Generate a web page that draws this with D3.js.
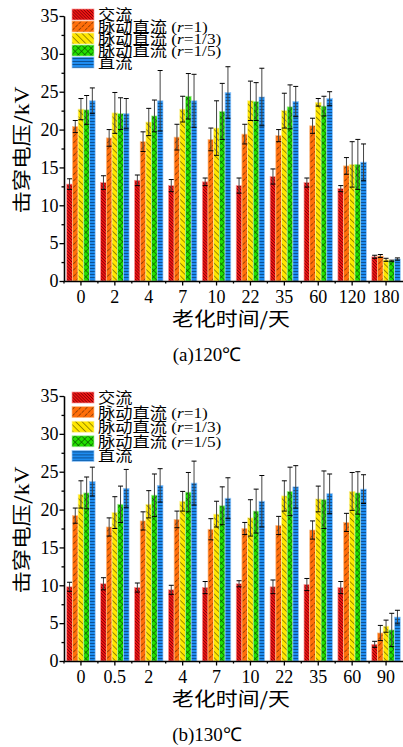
<!DOCTYPE html>
<html>
<head>
<meta charset="utf-8">
<script src="https://cdn.jsdelivr.net/npm/d3@7"></script>
<style>
  body { margin: 0; background: #fff; }
  svg { display: block; }
  .tick text { font-family: "Liberation Serif", "Times New Roman", serif; font-size: 18px; fill: #000; }
  .axis path, .axis line { stroke: #000; stroke-width: 1.3; }
</style>
</head>
<body>
<div id="chart"></div>
<script>
// series names and ratios (r value shown in italics)
const seriesNames = ['交流', '脉动直流', '脉动直流', '脉动直流', '直流'];
const seriesRatio = [null, '1', '1/3', '1/5', null];
const seriesKeys = ['ac', 'p1', 'p3', 'p5', 'dc'];

// (a) 120 C
const days120 = ['0', '2', '4', '7', '10', '22', '35', '60', '120', '180'];
const ac120 = [12.8, 13.0, 13.3, 12.6, 13.1, 12.6, 13.8, 13.0, 12.2, 3.2];
const ac120Err = [0.7, 0.9, 0.7, 0.8, 0.5, 1.0, 1.0, 0.6, 0.4, 0.2];
const p1_120 = [20.4, 18.9, 18.4, 19.0, 18.7, 19.4, 19.2, 20.5, 15.2, 3.3];
const p1_120Err = [0.8, 1.1, 1.3, 1.7, 1.5, 1.3, 0.8, 1.0, 1.1, 0.2];
const p3_120 = [22.7, 22.2, 21.0, 22.7, 20.2, 23.8, 22.5, 23.6, 15.4, 2.8];
const p3_120Err = [1.4, 2.7, 1.8, 1.7, 3.6, 2.6, 2.3, 0.5, 3.0, 0.2];
const p5_120 = [22.6, 22.1, 21.8, 24.4, 22.4, 23.7, 23.0, 23.1, 15.4, 2.65];
const p5_120Err = [1.9, 2.1, 2.1, 3.0, 3.7, 2.5, 2.9, 1.3, 3.3, 0.1];
const dc120 = [23.8, 22.1, 23.8, 23.8, 24.9, 24.3, 23.7, 24.1, 15.7, 2.9];
const dc120Err = [1.7, 2.0, 4.0, 3.5, 3.4, 3.8, 2.0, 0.9, 2.4, 0.15];

// (b) 130 C
const days130 = ['0', '0.5', '2', '4', '7', '10', '22', '35', '60', '90'];
const ac130 = [9.8, 10.2, 9.7, 9.4, 9.7, 10.2, 9.8, 10.1, 9.7, 2.2];
const ac130Err = [0.6, 0.8, 0.6, 0.6, 0.8, 0.4, 0.9, 0.8, 0.8, 0.4];
const p1_130 = [19.2, 17.7, 18.5, 18.7, 17.4, 17.5, 17.9, 17.3, 18.3, 3.7];
const p1_130Err = [1.0, 1.2, 1.2, 1.1, 1.4, 0.8, 1.2, 1.2, 1.2, 1.0];
const p3_130 = [22.0, 19.6, 20.7, 21.1, 19.4, 18.9, 21.8, 21.4, 22.4, 4.6];
const p3_130Err = [1.8, 2.1, 1.8, 1.3, 1.7, 2.4, 2.0, 1.7, 2.5, 0.8];
const p5_130 = [22.2, 20.7, 21.9, 22.3, 20.5, 19.8, 22.4, 21.3, 22.2, 4.1];
const p5_130Err = [2.1, 2.4, 2.8, 2.6, 2.5, 2.9, 3.2, 3.8, 2.8, 2.2];
const dc130 = [23.7, 22.8, 23.2, 23.5, 21.5, 21.1, 23.0, 22.1, 22.7, 5.8];
const dc130Err = [1.9, 2.5, 2.2, 2.9, 2.7, 3.4, 2.8, 2.6, 1.9, 0.9];

const yTicks = [0, 5, 10, 15, 20, 25, 30, 35];

const W = 403, H = 747;
const svg = d3.select('#chart').append('svg')
    .attr('width', W)
    .attr('height', H);

// hatch patterns
const defs = svg.append('defs');
const pats = [
    {id: 'ac', fill: '#f01414', line: '#6a0000', gap: 2.2, rot: -45, cross: false, dash: null},
    {id: 'p1', fill: '#ff6e0a', line: '#5a2500', gap: 4.5, rot: 45, cross: false, dash: '2,1'},
    {id: 'p3', fill: '#ffe600', line: '#5a5000', gap: 4.5, rot: -45, cross: false, dash: null},
    {id: 'p5', fill: '#22e000', line: '#0a4a00', gap: 4.5, rot: 45, cross: true, dash: null},
    {id: 'dc', fill: '#1e8cf0', line: '#063a6e', gap: 3, rot: 0, cross: false, dash: '3,1', horiz: true}
];
const strokeCol = {ac: '#ff9a9a', p1: '#ffc08a', p3: '#fff59a', p5: '#aaf59a', dc: '#9ccaf8'};

pats.forEach(p => {
    const pat = defs.append('pattern')
        .attr('id', 'pat-' + p.id)
        .attr('patternUnits', 'userSpaceOnUse')
        .attr('width', p.gap)
        .attr('height', p.gap)
        .attr('patternTransform', 'rotate(' + p.rot + ')');
    pat.append('rect').attr('width', p.gap).attr('height', p.gap).attr('fill', p.fill);
    if (p.horiz) {
        pat.append('line').attr('x1', 0).attr('x2', p.gap).attr('y1', p.gap / 2).attr('y2', p.gap / 2)
            .attr('stroke', p.line).attr('stroke-width', 0.7).attr('stroke-dasharray', p.dash);
    } else {
        pat.append('line').attr('x1', p.gap / 2).attr('x2', p.gap / 2).attr('y1', 0).attr('y2', p.gap)
            .attr('stroke', p.line).attr('stroke-width', 0.6).attr('stroke-dasharray', p.dash);
        if (p.cross) {
            pat.append('line').attr('x1', 0).attr('x2', p.gap).attr('y1', p.gap / 2).attr('y2', p.gap / 2)
                .attr('stroke', p.line).attr('stroke-width', 0.6);
        }
    }
});

function drawChart(cfg) {
    const g = svg.append('g');

    const x0 = d3.scaleBand()
        .domain(cfg.days)
        .range([64, 403])
        .paddingInner(0.16)
        .paddingOuter(0.08);

    const x1 = d3.scaleBand()
        .domain(seriesKeys)
        .range([0, x0.bandwidth()]);

    const y = d3.scaleLinear()
        .domain([0, 35])
        .range([cfg.bottom, cfg.bottom - 265]);

    const rows = cfg.days.map((d, i) => ({
        day: d,
        vals: seriesKeys.map((k, j) => ({key: k, v: cfg.vals[j][i], e: cfg.errs[j][i]}))
    }));

    const groups = g.selectAll('.grp')
        .data(rows)
        .enter()
        .append('g')
        .attr('class', 'grp')
        .attr('transform', d => 'translate(' + x0(d.day) + ',0)');

    groups.selectAll('rect')
        .data(d => d.vals)
        .enter()
        .append('rect')
        .attr('x', d => x1(d.key))
        .attr('width', x1.bandwidth())
        .attr('y', d => y(d.v))
        .attr('height', d => y(0) - y(d.v))
        .attr('fill', d => 'url(#pat-' + d.key + ')')
        .attr('stroke', d => strokeCol[d.key])
        .attr('stroke-width', 0.7);

    // error bars
    const eb = groups.selectAll('.err')
        .data(d => d.vals)
        .enter()
        .append('g')
        .attr('class', 'err');
    eb.append('line')
        .attr('x1', d => x1(d.key) + x1.bandwidth() / 2)
        .attr('x2', d => x1(d.key) + x1.bandwidth() / 2)
        .attr('y1', d => y(d.v + d.e))
        .attr('y2', d => y(d.v - d.e))
        .attr('stroke', '#444')
        .attr('stroke-width', 1);
    [1, -1].forEach(s => {
        eb.append('line')
            .attr('x1', d => x1(d.key) + x1.bandwidth() / 2 - 2.5)
            .attr('x2', d => x1(d.key) + x1.bandwidth() / 2 + 2.5)
            .attr('y1', d => y(d.v + s * d.e))
            .attr('y2', d => y(d.v + s * d.e))
            .attr('stroke', '#000')
            .attr('stroke-width', 1);
    });

    // y axis
    g.append('g')
        .attr('class', 'axis')
        .attr('transform', 'translate(64,0)')
        .call(d3.axisLeft(y).tickValues(d3.range(2.5, 35, 5)).tickSize(2.5).tickSizeOuter(0).tickFormat(''));
    g.append('g')
        .attr('class', 'axis')
        .attr('transform', 'translate(64,0)')
        .call(d3.axisLeft(y).tickValues(yTicks).tickSize(4.5).tickSizeOuter(0).tickPadding(1));

    // x axis
    const xa = g.append('g')
        .attr('class', 'axis')
        .attr('transform', 'translate(0,' + cfg.bottom + ')')
        .call(d3.axisBottom(x0).tickSize(4.5).tickSizeOuter(0).tickPadding(5));
    xa.selectAll('.minor')
        .data(cfg.days)
        .enter()
        .append('line')
        .attr('class', 'minor')
        .attr('x1', d => x0(d) - x0.step() * x0.paddingInner() / 2)
        .attr('x2', d => x0(d) - x0.step() * x0.paddingInner() / 2)
        .attr('y1', 0)
        .attr('y2', 2.5);

    // titles
    const yt = g.append('text')
        .attr('transform', 'translate(29,' + (cfg.bottom - 131) + ') rotate(-90) scale(1.18,1)')
        .attr('text-anchor', 'middle')
        .style('font-family', '"Noto Sans CJK SC", sans-serif')
        .style('font-size', '19px');
    yt.append('tspan').text('击穿电压/');
    yt.append('tspan').style('font-family', '"Liberation Serif", serif').style('font-size', '20px').text('kV');

    g.append('text')
        .attr('transform', 'translate(231,' + (cfg.bottom + 45) + ') scale(1.15,1)')
        .attr('text-anchor', 'middle')
        .style('font-family', '"Noto Sans CJK SC", sans-serif')
        .style('font-size', '19px')
        .text('老化时间/天');

    g.append('text')
        .attr('x', 207)
        .attr('y', cfg.bottom + 80)
        .attr('text-anchor', 'middle')
        .style('font-family', '"Liberation Serif", serif')
        .style('font-size', '19px')
        .text(cfg.caption);

    // legend
    const lg = g.selectAll('.leg')
        .data(seriesKeys)
        .enter()
        .append('g')
        .attr('class', 'leg')
        .attr('transform', (d, i) => 'translate(72,' + (cfg.legTop + i * cfg.legGap) + ')');
    lg.append('rect')
        .attr('width', 22)
        .attr('height', 11)
        .attr('fill', d => 'url(#pat-' + d + ')')
        .attr('stroke', d => strokeCol[d])
        .attr('stroke-width', 0.7);
    const lt = lg.append('text')
        .attr('transform', 'translate(26,11) scale(1.15,1)')
        .style('font-family', '"Noto Sans CJK SC", sans-serif')
        .style('font-size', '15px');
    lt.append('tspan').text((d, i) => seriesNames[i]);
    lt.filter((d, i) => seriesRatio[i])
        .append('tspan')
        .style('font-family', '"Liberation Serif", serif')
        .style('font-size', '15px')
        .text(' (');
    lt.filter((d, i) => seriesRatio[i])
        .append('tspan')
        .style('font-family', '"Liberation Serif", serif')
        .style('font-style', 'italic')
        .style('font-size', '15px')
        .text('r');
    lt.filter((d, i) => seriesRatio[i])
        .append('tspan')
        .style('font-family', '"Liberation Serif", serif')
        .style('font-size', '15px')
        .text(d => '=' + seriesRatio[seriesKeys.indexOf(d)] + ')');
}

drawChart({
    days: days120,
    vals: [ac120, p1_120, p3_120, p5_120, dc120],
    errs: [ac120Err, p1_120Err, p3_120Err, p5_120Err, dc120Err],
    bottom: 281,
    caption: '(a)120℃',
    legTop: 9,
    legGap: 12
});

drawChart({
    days: days130,
    vals: [ac130, p1_130, p3_130, p5_130, dc130],
    errs: [ac130Err, p1_130Err, p3_130Err, p5_130Err, dc130Err],
    bottom: 661,
    caption: '(b)130℃',
    legTop: 392,
    legGap: 14.6
});
</script>
</body>
</html>
